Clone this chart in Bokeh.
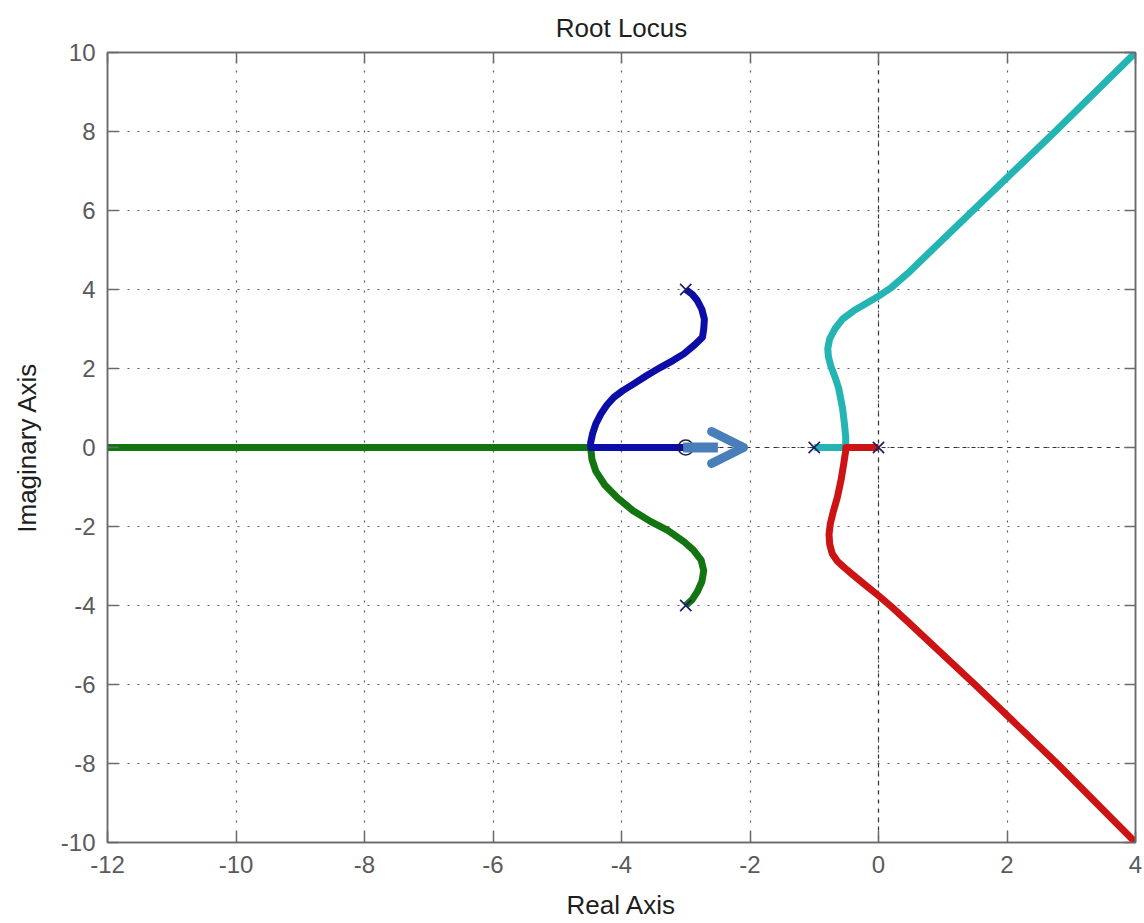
from bokeh.plotting import figure
from bokeh.models import Arrow, OpenHead, Span, LinearAxis, FixedTicker, Range1d
from bokeh.embed import file_html
from bokeh.resources import INLINE

# Axis ticks
x_ticks = [-12, -10, -8, -6, -4, -2, 0, 2, 4]
y_ticks = [-10, -8, -6, -4, -2, 0, 2, 4, 6, 8, 10]

# Open-loop poles and zeros
pole_re = [-3.0, -3.0, -1.0, 0.0]
pole_im = [4.0, -4.0, 0.0, 0.0]
zero_re = [-3.0]
zero_im = [0.0]

# Locus branches (real part, imaginary part)
blue_re = [-3.0, -2.9, -2.82, -2.75, -2.71, -2.72, -2.74, -2.86, -3.03, -3.2, -3.39, -3.6,
           -3.81, -3.98, -4.12, -4.23, -4.32, -4.4, -4.45, -4.48, -4.48, -3.0]
blue_im = [4.0, 3.88, 3.72, 3.5, 3.25, 3.0, 2.79, 2.6, 2.37, 2.2, 2.03, 1.83,
           1.61, 1.44, 1.27, 1.07, 0.85, 0.6, 0.35, 0.12, 0.0, 0.0]

green_re = [-3.0, -2.9, -2.82, -2.75, -2.72, -2.76, -2.88, -3.03, -3.28, -3.55, -3.82,
            -4.06, -4.26, -4.4, -4.46, -4.48, -12.0]
green_im = [-4.0, -3.85, -3.65, -3.4, -3.12, -2.85, -2.6, -2.38, -2.1, -1.87, -1.6,
            -1.28, -0.95, -0.6, -0.3, 0.0, 0.0]

cyan_re = [-1.0, -0.51, -0.51, -0.53, -0.56, -0.62, -0.68, -0.74, -0.78, -0.79, -0.76,
           -0.68, -0.56, -0.38, -0.2, 0.0, 0.2, 0.45, 1.47, 2.75, 4.0]
cyan_im = [0.0, 0.0, 0.26, 0.6, 1.0, 1.5, 1.8, 2.05, 2.3, 2.5, 2.75,
           3.0, 3.25, 3.47, 3.64, 3.83, 4.05, 4.4, 6.0, 8.0, 10.0]

red_re = [0.0, -0.51, -0.51, -0.54, -0.58, -0.64, -0.7, -0.75, -0.77, -0.76, -0.72,
          -0.64, -0.54, -0.4, -0.23, 0.0, 0.2, 0.45, 1.5, 2.78, 4.0]
red_im = [0.0, 0.0, -0.08, -0.4, -0.8, -1.26, -1.6, -1.93, -2.2, -2.45, -2.69,
          -2.88, -3.03, -3.22, -3.45, -3.75, -4.03, -4.4, -6.0, -8.0, -10.0]

# Direction arrow along the real axis
arrow_from = -3.04
arrow_mid = -2.5
arrow_to = -2.1

font = "Liberation Sans"
tick_color = "#5a5a5a"
frame_color = "#6a6a6a"

p = figure(width=1144, height=923, x_range=Range1d(-12, 4), y_range=Range1d(-10, 10),
           output_backend="svg", toolbar_location=None, title="Root Locus",
           min_border_left=107, min_border_right=9, min_border_top=52, min_border_bottom=81)

p.title.align = "center"
p.title.text_font = font
p.title.text_font_size = "26px"
p.title.text_font_style = "normal"
p.title.text_color = "#1e1e1e"
p.title.standoff = 20

p.outline_line_color = frame_color
p.outline_line_width = 1.5

for ax in (p.xaxis, p.yaxis):
    ax.major_tick_in = 11
    ax.major_tick_out = 0
    ax.minor_tick_line_color = None
    ax.axis_line_color = frame_color
    ax.axis_line_width = 1.5
    ax.major_tick_line_color = frame_color
    ax.major_tick_line_width = 1.5
    ax.major_label_text_font = font
    ax.major_label_text_font_size = "24px"
    ax.major_label_text_color = tick_color
    ax.axis_label_text_font = font
    ax.axis_label_text_font_size = "26px"
    ax.axis_label_text_font_style = "normal"
    ax.axis_label_text_color = "#1e1e1e"

p.xaxis.ticker = FixedTicker(ticks=x_ticks)
p.yaxis.ticker = FixedTicker(ticks=y_ticks)
p.xaxis.major_label_overrides = {t: str(t) for t in x_ticks}
p.yaxis.major_label_overrides = {t: str(t) for t in y_ticks}
p.xaxis.axis_label = "Real Axis"
p.yaxis.axis_label = "Imaginary Axis"
p.xaxis.major_label_standoff = 13
p.yaxis.major_label_standoff = 12
p.xaxis.axis_label_standoff = 14
p.yaxis.axis_label_standoff = 16

# Tick marks on the top and right edges of the box
for loc, tks in (("above", x_ticks), ("right", y_ticks)):
    ax = LinearAxis(ticker=FixedTicker(ticks=tks), major_tick_in=11, major_tick_out=0,
                    major_label_text_font_size="1px", major_label_text_color=None,
                    major_label_standoff=0,
                    minor_tick_line_color=None, axis_line_color=frame_color, axis_line_width=1.5,
                    major_tick_line_color=frame_color, major_tick_line_width=1.5)
    p.add_layout(ax, loc)

p.xgrid.ticker = FixedTicker(ticks=x_ticks)
p.ygrid.ticker = FixedTicker(ticks=y_ticks)
for g in (p.xgrid, p.ygrid):
    g.grid_line_color = "#4a4a4a"
    g.grid_line_dash = "2 8"
    g.grid_line_width = 1.2
    g.grid_line_alpha = 0.9

# Real and imaginary axes through the origin
for dim in ("width", "height"):
    p.add_layout(Span(location=0, dimension=dim, line_color="#333333",
                      line_dash="4 5", line_width=1.2, level="underlay"))

lw = 7
p.line(green_re, green_im, line_color="#127512", line_width=lw, line_join="round")
p.line(blue_re, blue_im, line_color="#0c0ca8", line_width=lw, line_join="round")
p.line(cyan_re, cyan_im, line_color="#24b4b4", line_width=lw, line_join="round")
p.line(red_re, red_im, line_color="#cc1414", line_width=lw, line_join="round")

p.scatter(pole_re, pole_im, marker="x", size=16, line_color="#1c1c66", line_width=1.6)
p.scatter(zero_re, zero_im, marker="circle", size=15, fill_color=None,
          line_color="#1c1c44", line_width=1.6)

arrow_color = "#4a7ebb"
p.add_layout(Arrow(end=None, x_start=arrow_from, y_start=0, x_end=arrow_mid, y_end=0,
                   line_color=arrow_color, line_width=10))
p.add_layout(Arrow(end=OpenHead(size=32, line_width=9, line_color=arrow_color,
                                line_cap="round", line_join="round"),
                   x_start=arrow_mid, y_start=0, x_end=arrow_to, y_end=0,
                   line_alpha=0))

open("out.html", "w").write(file_html(p, INLINE))
